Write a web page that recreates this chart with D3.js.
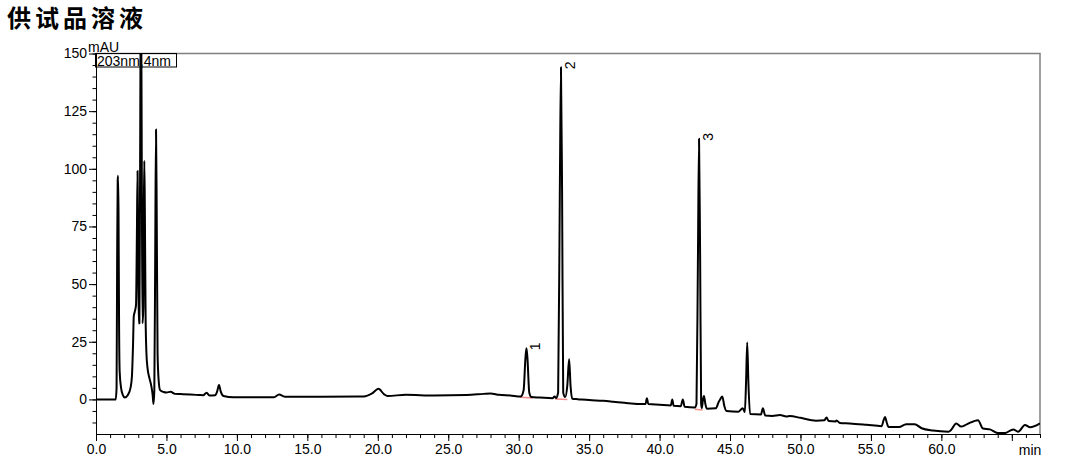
<html>
<head>
<meta charset="utf-8">
<script src="https://cdn.jsdelivr.net/npm/d3@7"></script>
<style>
    body {
        margin: 0;
        padding: 0;
        background: #fff;
        font-family: "Liberation Sans", Arial, sans-serif;
    }
</style>
</head>
<body>
<div id="chart-container"></div>
<script>
    // retention time (min) and detector response (mAU)
    var time = [
        0, 1.40, 1.46, 1.50, 1.54, 1.57, 1.60, 1.64, 1.68, 1.78, 1.90, 2.05, 2.25, 2.45, 2.55, 2.63,
        2.68, 2.75, 2.84, 2.90, 2.95, 2.99, 3.03, 3.08, 3.13, 3.19, 3.25, 3.30, 3.36, 3.40, 3.43, 3.47,
        3.52, 3.58, 3.65, 3.80, 3.92, 4.02, 4.08, 4.14, 4.20, 4.26, 4.31, 4.37, 4.45, 4.55, 4.80, 5.0,
        5.3, 5.6, 6.0, 6.7, 7.3, 7.6, 7.85, 8.05, 8.45, 8.6, 8.73, 8.85, 9.05, 9.75, 12.6, 13.0,
        13.4, 16.0, 19.0, 19.6, 20.05, 20.45, 20.7, 22.0, 24.0, 26.3, 27.5, 28.0, 28.6, 29.4, 30.15, 30.35,
        30.48, 30.55, 30.62, 30.75, 30.9, 31.5, 32.4, 32.55, 32.65, 32.80, 32.92, 33.00, 33.08, 33.16, 33.30, 33.45,
        33.58, 33.68, 33.80, 34.2, 35.0, 36.0, 36.7, 37.5, 38.5, 39.0, 39.1, 39.2, 40.0, 40.8, 40.9, 41.0,
        41.5, 41.65, 41.78, 42.5, 42.62, 42.72, 42.80, 42.88, 42.95, 43.0, 43.08, 43.15, 43.25, 43.35, 44.0, 44.2,
        44.3, 44.45, 44.6, 44.75, 45.6, 45.9, 46.05, 46.14, 46.22, 46.3, 46.42, 47.2, 47.33, 47.5, 48.0, 48.55,
        49.0, 49.25, 50.0, 51.1, 51.7, 51.85, 52.0, 52.5, 52.55, 52.8, 53.5, 54.7, 55.76, 55.9, 56.0, 56.12,
        56.25, 57.0, 57.5, 58.1, 58.6, 59.4, 60.5, 60.7, 61.05, 61.4, 61.8, 62.6, 62.95, 63.45, 64.0, 64.5,
        65.1, 65.45, 65.93, 66.3, 67.0
    ];
    var mAU = [
        0, 0, 5, 60, 95, 97, 80, 30, 12, 5, 2, 0.8, 1.8, 5, 10, 24,
        36, 38, 41, 70, 99, 70, 33, 33, 100, 190, 100, 33, 40, 85, 103.5, 80,
        36, 20, 14, 9, 6, 2, -2, 4, 60, 117, 80, 20, 8, 4, 3.2, 3.0,
        3.3, 2.4, 2.3, 2.1, 1.9, 1.8, 2.9, 1.7, 1.8, 3.5, 6.3, 3.5, 1.5, 0.9, 0.9, 2.1,
        1.2, 1.2, 1.3, 2.6, 4.6, 2.2, 1.5, 2.0, 1.7, 1.9, 2.4, 2.6, 2.0, 1.7, 1.3, 4,
        18, 22.2, 18, 3, 1.0, 0.8, 0.5, 1.3, 0.6, 3, 90, 144, 90, 3, 1.0, 6,
        17.5, 6, 0.3, 0.1, -0.3, -0.6, -1.0, -1.5, -2.0, -2.0, 0.5, -2.0, -2.3, -2.6, 0, -2.8,
        -3.0, 0, -3.2, -3.5, -2, 60, 113, 60, -2, -3.8, 0, 1.5, -2, -4.0, -3.8, -1,
        0, 1.3, -3, -5.0, -5.3, -3.8, -5.5, 8, 24.7, 8, -6.3, -6.5, -3.8, -7, -7.2, -6.8,
        -7.4, -7.2, -8.0, -9.2, -9.0, -7.8, -9.4, -9.6, -9.1, -10.2, -10.4, -11.0, -11.6, -9, -7.6, -10,
        -12.0, -12.0, -10.8, -10.8, -12.5, -13.5, -14.0, -13.2, -10.4, -11.8, -10.8, -9.0, -12.6, -13.0, -14.6, -14.6,
        -13.0, -14.0, -11.1, -12.1, -10.4
    ];

    // integrated peaks: apex time, apex height, label, baseline start/end
    var peakTimes = [30.55, 33.00, 42.80];
    var peakHeights = [22.2, 144, 113];
    var peakNames = ["1", "2", "3"];
    var peakBaseStart = [[30.1, 0.9], [32.6, 0.2], [42.5, -4.3]];
    var peakBaseEnd = [[31.0, 0.6], [33.45, 0.0], [43.05, -4.6]];

    var xMajorTicks = [0, 5, 10, 15, 20, 25, 30, 35, 40, 45, 50, 55, 60, 65];
    var yMajorTicks = [0, 25, 50, 75, 100, 125, 150];

    var WIDTH = 1080, HEIGHT = 464;
    var PLOT = { left: 96, right: 1040, top: 53.5, bottom: 434 };

    var svg = d3.select("#chart-container")
        .append("svg")
        .attr("width", WIDTH)
        .attr("height", HEIGHT);

    var xScale = d3.scaleLinear().domain([0, 67]).range([PLOT.left, PLOT.right]);
    var yScale = d3.scaleLinear().domain([-15, 150]).range([PLOT.bottom, PLOT.top]);

    // title
    svg.append("text")
        .attr("x", 7)
        .attr("y", 27)
        .style("font-family", "'Noto Sans CJK SC', sans-serif")
        .style("font-weight", "bold")
        .style("font-size", "24px")
        .style("letter-spacing", "4px")
        .text("供试品溶液");

    // frame top / right
    svg.append("path")
        .attr("d", "M" + PLOT.left + "," + PLOT.top + "H" + PLOT.right + "V" + PLOT.bottom)
        .attr("fill", "none")
        .attr("stroke", "#808080")
        .attr("stroke-width", 1.5);

    // y axis
    var yMinor = svg.append("g")
        .attr("transform", "translate(" + PLOT.left + ",0)")
        .call(d3.axisLeft(yScale).tickValues(d3.range(-10, 151, 5)).tickSize(3.5).tickFormat(""));
    yMinor.select(".domain").remove();
    var yAxis = svg.append("g")
        .attr("transform", "translate(" + PLOT.left + ",0)")
        .call(d3.axisLeft(yScale).tickValues(yMajorTicks).tickSize(7).tickSizeOuter(0).tickPadding(2).tickFormat(d3.format("d")));
    yAxis.selectAll("text")
        .style("font-family", "'Liberation Sans', Arial, sans-serif")
        .style("font-size", "14px")
        .attr("fill", "#000");

    // x axis
    var xMinor = svg.append("g")
        .attr("transform", "translate(0," + PLOT.bottom + ")")
        .call(d3.axisBottom(xScale).tickValues(d3.range(1, 68, 1)).tickSize(4).tickFormat(""));
    xMinor.select(".domain").remove();
    var xAxis = svg.append("g")
        .attr("transform", "translate(0," + PLOT.bottom + ")")
        .call(d3.axisBottom(xScale).tickValues(xMajorTicks).tickSize(7).tickSizeOuter(0).tickPadding(3)
            .tickFormat(function(d) { return d > 60 ? "" : d3.format(".1f")(d); }));
    xAxis.selectAll("text")
        .style("font-family", "'Liberation Sans', Arial, sans-serif")
        .style("font-size", "14px")
        .attr("fill", "#000");

    svg.selectAll(".domain, .tick line").attr("stroke", "#000");

    svg.append("text")
        .attr("x", 1030)
        .attr("y", 455)
        .attr("text-anchor", "middle")
        .style("font-size", "14px")
        .text("min");

    svg.append("text")
        .attr("x", 88)
        .attr("y", 52)
        .style("font-size", "14px")
        .text("mAU");

    // clip for the trace
    svg.append("clipPath")
        .attr("id", "plot-clip")
        .append("rect")
        .attr("x", PLOT.left)
        .attr("y", PLOT.top)
        .attr("width", PLOT.right - PLOT.left)
        .attr("height", PLOT.bottom - PLOT.top);

    // integration baselines
    svg.append("g")
        .selectAll("line")
        .data(peakBaseStart)
        .enter()
        .append("line")
        .attr("x1", function(d) { return xScale(d[0]); })
        .attr("y1", function(d) { return yScale(d[1]); })
        .attr("x2", function(d, i) { return xScale(peakBaseEnd[i][0]); })
        .attr("y2", function(d, i) { return yScale(peakBaseEnd[i][1]); })
        .attr("stroke", "#f08c8c")
        .attr("stroke-width", 1.5);

    var points = time.map(function(t, i) { return [t, mAU[i]]; });

    var line = d3.line()
        .x(function(d) { return xScale(d[0]); })
        .y(function(d) { return yScale(d[1]); })
        .curve(d3.curveMonotoneX);

    svg.append("path")
        .datum(points)
        .attr("clip-path", "url(#plot-clip)")
        .attr("d", line)
        .attr("fill", "none")
        .attr("stroke", "#000")
        .attr("stroke-width", 2)
        .attr("stroke-linejoin", "round");

    // detector legend box
    var legend = svg.append("g");
    legend.append("rect")
        .attr("x", 95.5)
        .attr("y", 53.5)
        .attr("width", 81)
        .attr("height", 13.5)
        .attr("fill", "none")
        .attr("stroke", "#000")
        .attr("stroke-width", 1);
    legend.append("text")
        .attr("x", 97)
        .attr("y", 65.5)
        .style("font-size", "14px")
        .text("203nm,4nm");

    // peak numbers
    svg.append("g")
        .selectAll("text")
        .data(peakNames)
        .enter()
        .append("text")
        .attr("transform", function(d, i) {
            return "translate(" + (xScale(peakTimes[i]) + 14) + "," + (yScale(peakHeights[i]) + 2) + ") rotate(-90)";
        })
        .style("font-size", "14px")
        .text(function(d) { return d; });
</script>
</body>
</html>
